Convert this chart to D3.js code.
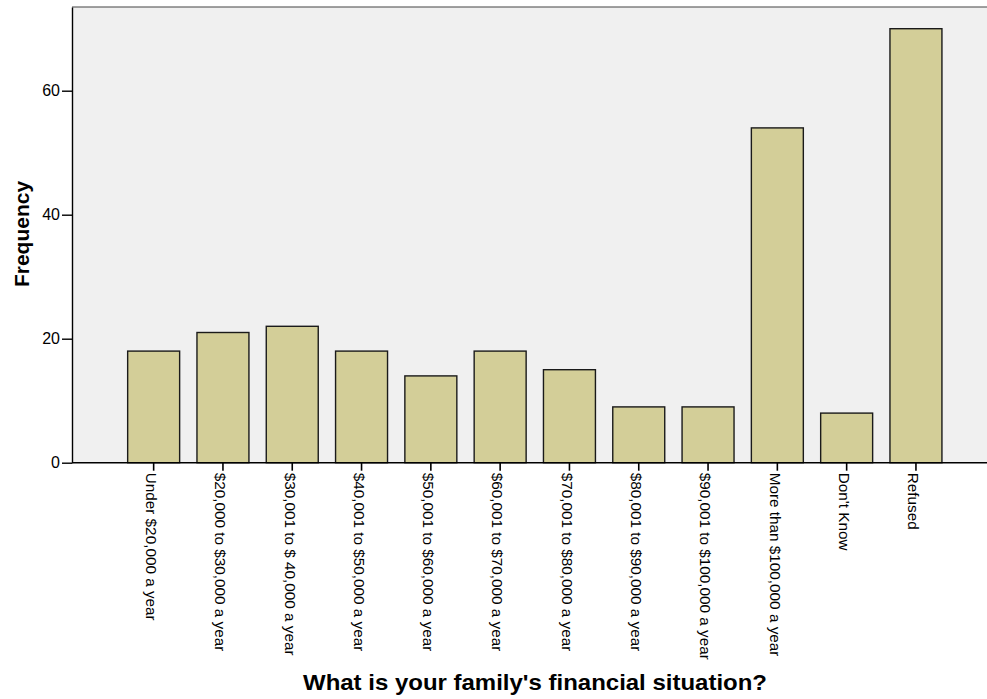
<!DOCTYPE html>
<html>
<head>
<meta charset="utf-8">
<script src="https://cdn.jsdelivr.net/npm/d3@7"></script>
<style>
  html, body { margin: 0; padding: 0; background: #ffffff; }
  svg { display: block; }
</style>
</head>
<body>
<svg id="chart" width="987" height="699"></svg>
<script>
const categories = [
  "Under $20,000 a year",
  "$20,000 to $30,000 a year",
  "$30,001 to $ 40,000 a year",
  "$40,001 to $50,000 a year",
  "$50,001 to $60,000 a year",
  "$60,001 to $70,000 a year",
  "$70,001 to $80,000 a year",
  "$80,001 to $90,000 a year",
  "$90,001 to $100,000 a year",
  "More than $100,000 a year",
  "Don't Know",
  "Refused"
];
const frequencies = [18, 21, 22, 18, 14, 18, 15, 9, 9, 54, 8, 70];
const yTickValues = [0, 20, 40, 60];
const xTitle = "What is your family's financial situation?";
const yTitle = "Frequency";

const svg = d3.select("#chart");
const plot = { left: 72, top: 7, right: 987, bottom: 462.7 };

const x = d3.scaleBand()
  .domain(categories)
  .range([119, 950.6])
  .paddingInner(0.25)
  .paddingOuter(0.125);

const y = d3.scaleLinear()
  .domain([0, 73.5])
  .range([plot.bottom, plot.top]);

const font = "'Liberation Sans', Arial, sans-serif";

// plot background
svg.append("rect")
  .attr("x", plot.left).attr("y", plot.top)
  .attr("width", plot.right - plot.left + 5)
  .attr("height", plot.bottom - plot.top)
  .attr("fill", "#f0f0f0");

// top border
svg.append("line")
  .attr("x1", plot.left).attr("x2", plot.right)
  .attr("y1", plot.top).attr("y2", plot.top)
  .attr("stroke", "#444").attr("stroke-width", 1.2);

// bars
svg.append("g").selectAll("rect")
  .data(categories.map((c, i) => ({ c, v: frequencies[i] })))
  .join("rect")
  .attr("x", d => x(d.c))
  .attr("y", d => y(d.v))
  .attr("width", x.bandwidth())
  .attr("height", d => y(0) - y(d.v))
  .attr("fill", "#d3ce98")
  .attr("stroke", "#1a1a1a")
  .attr("stroke-width", 1.4);

// y axis
const yAxis = svg.append("g")
  .attr("transform", `translate(${plot.left},0)`)
  .call(d3.axisLeft(y).tickValues(yTickValues).tickSize(10).tickPadding(2).tickSizeOuter(0));
yAxis.select(".domain").attr("stroke", "#000").attr("stroke-width", 1.4);
yAxis.selectAll(".tick line").attr("stroke", "#000").attr("stroke-width", 1.4);
yAxis.selectAll(".tick text")
  .attr("font-family", font).attr("font-size", 16).attr("fill", "#000");

// x axis
const xAxis = svg.append("g")
  .attr("transform", `translate(0,${plot.bottom})`)
  .call(d3.axisBottom(x).tickSize(8).tickSizeOuter(0));
xAxis.select(".domain").remove();
xAxis.selectAll(".tick line").attr("stroke", "#000").attr("stroke-width", 1.6);
xAxis.selectAll(".tick text")
  .attr("font-family", font).attr("font-size", 15.3).attr("fill", "#000")
  .attr("text-anchor", "start")
  .attr("transform", "rotate(90)")
  .attr("x", 10).attr("y", 0).attr("dy", "0.5em");

// x axis baseline
svg.append("line")
  .attr("x1", plot.left).attr("x2", plot.right)
  .attr("y1", plot.bottom).attr("y2", plot.bottom)
  .attr("stroke", "#000").attr("stroke-width", 1.5);

// titles
svg.append("text")
  .attr("x", 303).attr("y", 690)
  .attr("textLength", 464)
  .attr("lengthAdjust", "spacingAndGlyphs")
  .attr("font-family", font).attr("font-weight", "bold").attr("font-size", 21.5)
  .attr("fill", "#000")
  .text(xTitle);

svg.append("text")
  .attr("transform", "translate(29,234) rotate(-90)")
  .attr("text-anchor", "middle")
  .attr("font-family", font).attr("font-weight", "bold").attr("font-size", 21)
  .attr("fill", "#000")
  .text(yTitle);
</script>
</body>
</html>
